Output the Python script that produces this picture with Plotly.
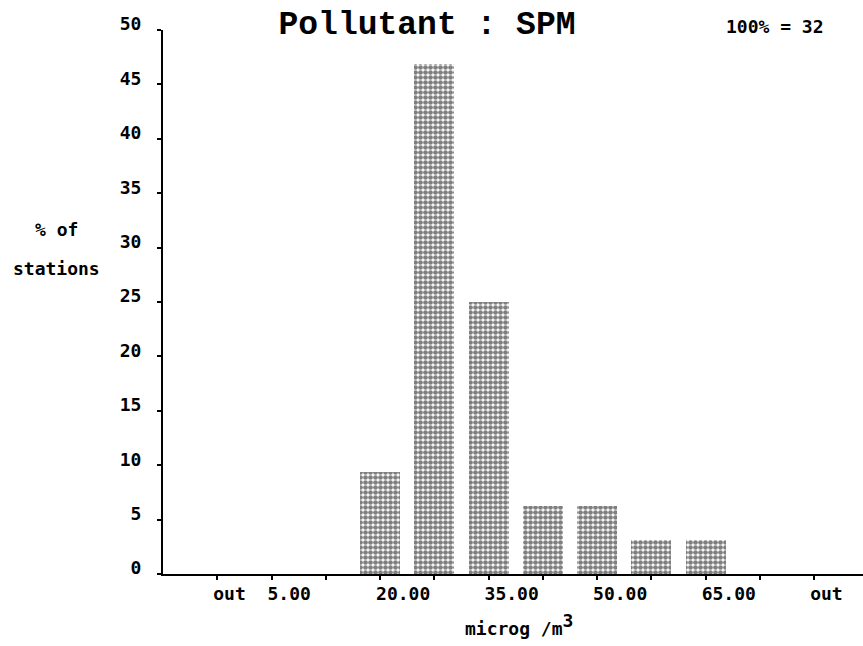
import plotly.graph_objects as go

# Concentration classes (microg/m3) along the x axis; only every other class edge is labelled
class_labels = ["out", "5.00", "", "20.00", "", "35.00", "", "50.00", "", "65.00", "", "out"]
# Number of monitoring stations falling in each class
station_counts = [0, 0, 0, 3, 15, 8, 2, 2, 1, 1, 0, 0]

total_stations = sum(station_counts)
station_pct = [c / total_stations * 100 for c in station_counts]
positions = list(range(len(class_labels)))
labelled = [p for p, lab in zip(positions, class_labels) if lab]
labelled_text = [lab for lab in class_labels if lab]

y_ticks = list(range(0, 55, 5))

LABEL_FONT = dict(family="DejaVu Sans Mono, monospace", size=18, color="black", weight="bold")

fig = go.Figure()
fig.add_trace(go.Bar(
    x=positions,
    y=station_pct,
    width=0.74,
    marker=dict(
        color="white",
        line=dict(width=0),
        pattern=dict(shape=".", fgcolor="black", bgcolor="white", size=5, solidity=0.7,
                     fillmode="overlay"),
    ),
    hoverinfo="skip",
))

fig.update_layout(
    width=863,
    height=646,
    margin=dict(l=163, r=0, t=30, b=72),
    paper_bgcolor="white",
    plot_bgcolor="white",
    showlegend=False,
    bargap=0,
    title=dict(
        text="Pollutant : SPM",
        font=dict(family="Liberation Mono, Courier New, monospace", size=33, color="black", weight="bold"),
        x=427 / 863, xref="container", xanchor="center",
        y=1 - 22 / 646, yref="container", yanchor="middle",
    ),
    xaxis=dict(
        range=[-1, 11.9],
        tickmode="array",
        tickvals=labelled,
        ticktext=labelled_text,
        ticks="outside",
        ticklen=4,
        tickwidth=2,
        tickcolor="black",
        minor=dict(tickvals=positions, ticks="outside", ticklen=4, tickwidth=2,
                   tickcolor="black", showgrid=False),
        showline=True,
        linewidth=2,
        linecolor="black",
        showgrid=False,
        zeroline=False,
        ticklabelposition="outside right",
        ticklabelshift=-6,
        ticklabelstandoff=2,
        tickfont=LABEL_FONT,
        fixedrange=True,
    ),
    yaxis=dict(
        range=[0, 50],
        tickmode="array",
        tickvals=y_ticks,
        ticks="outside",
        ticklen=4,
        tickwidth=2,
        tickcolor="black",
        showline=True,
        linewidth=2,
        linecolor="black",
        showgrid=False,
        zeroline=False,
        ticklabelshift=-6,
        ticklabelstandoff=12,
        tickfont=LABEL_FONT,
        fixedrange=True,
    ),
)

# y axis caption, two lines to the left of the tick labels
fig.add_annotation(text="% of", xref="paper", yref="paper",
                   x=(57 - 163) / 700, y=(574 - 229) / 544,
                   xanchor="center", yanchor="middle", showarrow=False, font=LABEL_FONT)
fig.add_annotation(text="stations", xref="paper", yref="paper",
                   x=(57 - 163) / 700, y=(574 - 268) / 544,
                   xanchor="center", yanchor="middle", showarrow=False, font=LABEL_FONT)

# unit caption under the x axis
fig.add_annotation(text="microg /m<sup><span style='font-size:18px'>3</span></sup>",
                   xref="paper", yref="paper",
                   x=(519 - 163) / 700, y=(574 - 624) / 544,
                   xanchor="center", yanchor="middle", showarrow=False, font=LABEL_FONT)

# sample size note in the top right corner
fig.add_annotation(text=f"100% = {total_stations}", xref="paper", yref="paper",
                   x=(775 - 163) / 700, y=(574 - 26) / 544,
                   xanchor="center", yanchor="middle", showarrow=False, font=LABEL_FONT)

fig.write_html("out.html")
